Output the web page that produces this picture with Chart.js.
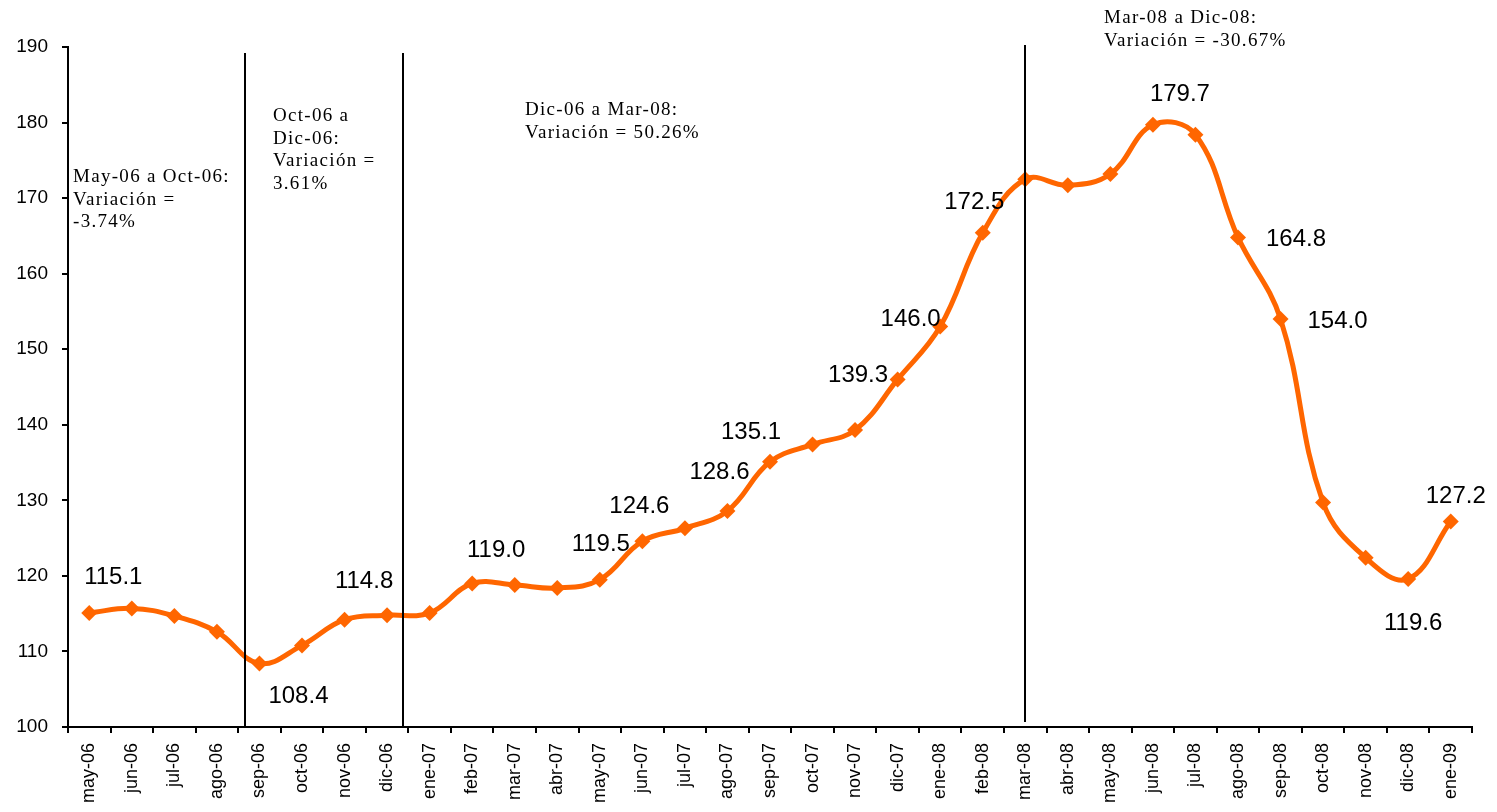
<!DOCTYPE html>
<html>
<head>
<meta charset="utf-8">
<script src="https://cdn.jsdelivr.net/npm/chart.js@4.4.0/dist/chart.umd.min.js"></script>
<style>
  html, body { margin: 0; padding: 0; background: #fff; }
  #wrap { width: 1497px; height: 812px; }
</style>
</head>
<body>
<div id="wrap"><canvas id="myChart" width="1497" height="812"></canvas></div>
<script>
// months shown on the x axis
const months = ['may-06', 'jun-06', 'jul-06', 'ago-06', 'sep-06', 'oct-06', 'nov-06', 'dic-06',
    'ene-07', 'feb-07', 'mar-07', 'abr-07', 'may-07', 'jun-07', 'jul-07', 'ago-07', 'sep-07',
    'oct-07', 'nov-07', 'dic-07', 'ene-08', 'feb-08', 'mar-08', 'abr-08', 'may-08', 'jun-08',
    'jul-08', 'ago-08', 'sep-08', 'oct-08', 'nov-08', 'dic-08', 'ene-09'];

// index values
const values = [115.1, 115.7, 114.7, 112.6, 108.4, 110.8, 114.2, 114.8,
    115.1, 119.0, 118.8, 118.4, 119.5, 124.6, 126.3, 128.6, 135.1,
    137.4, 139.3, 146.0, 153.0, 165.4, 172.5, 171.7, 173.2, 179.7,
    178.4, 164.8, 154.0, 129.7, 122.4, 119.6, 127.2];

const yTicks = [100, 110, 120, 130, 140, 150, 160, 170, 180, 190];

// which points carry a value label, and where the label sits relative to the point
const labelled = [0, 4, 7, 9, 12, 13, 15, 16, 18, 19, 22, 25, 27, 28, 31, 32];
const labelOffsets = [[24, -36], [39, 33], [-23, -34], [24, -33], [1, -35], [-3, -35], [-8, -39], [-19, -29],
    [3, -55], [13, -60], [-51, 23], [27, -30], [58, 2], [57, 2], [5, 44], [5, -25]];

// period separators (category position) and the notes for each period
const dividers = [3.66, 7.38, 22.0];
const notes = [
    { lines: ['May-06 a Oct-06:', 'Variación =', '-3.74%'], x: 73, y: 177 },
    { lines: ['Oct-06 a', 'Dic-06:', 'Variación =', '3.61%'], x: 273, y: 116 },
    { lines: ['Dic-06 a Mar-08:', 'Variación = 50.26%'], x: 525, y: 110 },
    { lines: ['Mar-08 a Dic-08:', 'Variación = -30.67%'], x: 1104, y: 18 }
];

const extras = {
    id: 'extras',
    afterDatasetsDraw(chart) {
        const ctx = chart.ctx;
        const xs = chart.scales.x;
        const area = chart.chartArea;
        ctx.save();

        // vertical separators
        ctx.strokeStyle = '#000';
        ctx.lineWidth = 2;
        dividers.forEach((d, i) => {
            const px = Math.round(xs.getPixelForValue(d));
            const top = i === 2 ? area.top - 2 : area.top + 6;
            ctx.beginPath();
            ctx.moveTo(px, top);
            ctx.lineTo(px, area.bottom - (i === 2 ? 5 : 0));
            ctx.stroke();
        });

        // period notes
        ctx.fillStyle = '#000';
        ctx.font = '19px "Liberation Serif", "Times New Roman", serif';
        ctx.letterSpacing = '1.3px';
        ctx.textAlign = 'left';
        ctx.textBaseline = 'middle';
        notes.forEach(n => {
            n.lines.forEach((t, j) => ctx.fillText(t, n.x, n.y + j * 22.7));
        });
        ctx.letterSpacing = '0px';

        // value labels
        const meta = chart.getDatasetMeta(0);
        ctx.font = '24px "Liberation Sans", Arial, sans-serif';
        ctx.textAlign = 'center';
        labelled.forEach((idx, k) => {
            const pt = meta.data[idx];
            ctx.fillText(values[idx].toFixed(1), pt.x + labelOffsets[k][0], pt.y + labelOffsets[k][1]);
        });
        ctx.restore();
    }
};

const ctx = document.getElementById('myChart').getContext('2d');
const myChart = new Chart(ctx, {
    type: 'line',
    data: {
        labels: months,
        datasets: [{
            data: values,
            borderColor: '#FF6600',
            backgroundColor: '#FF6600',
            borderWidth: 5,
            tension: 0.4,
            pointStyle: 'rectRot',
            pointRadius: 8,
            pointBorderWidth: 0,
            pointBackgroundColor: '#FF6600'
        }]
    },
    options: {
        responsive: false,
        animation: false,
        layout: { padding: { top: 47, right: 25, left: 0, bottom: 0 } },
        plugins: {
            legend: { display: false },
            tooltip: { enabled: false }
        },
        scales: {
            x: {
                offset: true,
                grid: { offset: true, drawOnChartArea: false, tickLength: 6, color: '#000', lineWidth: 2 },
                border: { color: '#000', width: 2 },
                ticks: {
                    color: '#000',
                    font: { family: '"Liberation Sans", Arial, sans-serif', size: 18 },
                    minRotation: 90,
                    maxRotation: 90,
                    padding: 10,
                    autoSkip: false
                },
                afterFit: s => { s.height = 85; }
            },
            y: {
                min: 100,
                max: 190,
                afterBuildTicks: s => { s.ticks = yTicks.map(v => ({ value: v })); },
                grid: { drawOnChartArea: false, tickLength: 6, color: '#000', lineWidth: 2 },
                border: { color: '#000', width: 2 },
                ticks: {
                    color: '#000',
                    font: { family: '"Liberation Sans", Arial, sans-serif', size: 19 },
                    padding: 14
                },
                afterFit: s => { s.width = 68; }
            }
        }
    },
    plugins: [extras]
});
</script>
</body>
</html>
